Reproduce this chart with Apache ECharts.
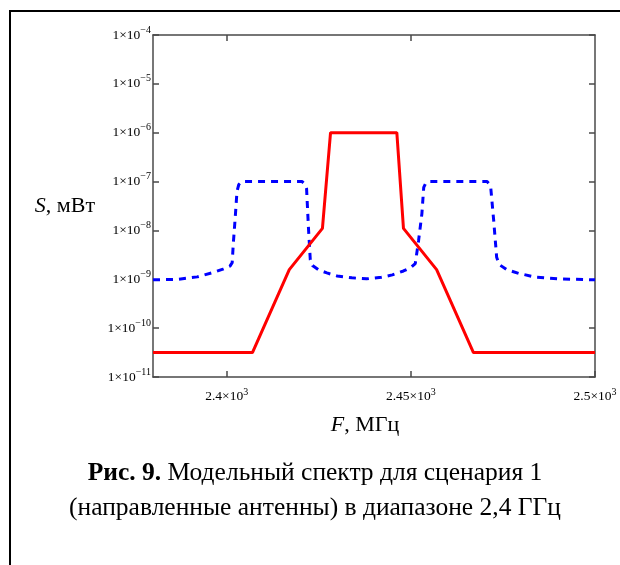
<!DOCTYPE html>
<html>
<head>
<meta charset="utf-8">
<script src="https://cdn.jsdelivr.net/npm/echarts@6/dist/echarts.min.js"></script>
<style>
  html, body { margin: 0; padding: 0; background: #fff; }
  #chart { width: 620px; height: 565px; }
</style>
</head>
<body>
<div id="chart"></div>
<script>
// red: directional antenna, channel centred at 2437 MHz
const redFreq = [2380, 2407, 2417, 2426, 2428.2, 2446.2, 2448, 2457, 2467, 2500]
const redPower = [3.16e-11, 3.16e-11, 1.58e-9, 1.1e-8, 1e-6, 1e-6, 1.1e-8, 1.58e-9, 3.16e-11, 3.16e-11]

// blue dashed: neighbour channels at 2412 and 2462 MHz
const blueFreq = [
  2380, 2387, 2392, 2396.3, 2399, 2400.9, 2401.5, 2401.8, 2402.3, 2402.8, 2403.3, 2404.1,
  2420.5, 2421.3, 2421.7, 2422.2, 2422.7, 2423.3, 2425, 2427.2, 2430, 2434, 2438, 2442,
  2445, 2448, 2450, 2451.2, 2452.1, 2453, 2453.5, 2454, 2454.8,
  2470.7, 2471.3, 2471.7, 2472.5, 2473.3, 2474, 2476, 2479.3, 2484, 2490, 2500
]
const bluePower = [
  9.77e-10, 1.0e-9, 1.12e-9, 1.38e-9, 1.62e-9, 1.86e-9, 2.19e-9, 5.37e-9, 1.74e-8, 6.31e-8, 8.71e-8, 1.0e-7,
  1.0e-7, 8.71e-8, 7.08e-8, 1.15e-8, 2.51e-9, 1.91e-9, 1.55e-9, 1.35e-9, 1.17e-9, 1.07e-9, 1.02e-9, 1.10e-9,
  1.23e-9, 1.48e-9, 1.74e-9, 2.09e-9, 6.17e-9, 2.19e-8, 7.59e-8, 9.12e-8, 1.0e-7,
  1.0e-7, 8.91e-8, 7.41e-8, 1.58e-8, 2.82e-9, 2.0e-9, 1.58e-9, 1.32e-9, 1.10e-9, 1.02e-9, 9.77e-10
]

const xTicks = [2400, 2450, 2500]
const xLabels = { 2400: '2.4', 2450: '2.45', 2500: '2.5' }
const yMin = 1e-11
const yMax = 1e-4

const serif = '"Liberation Serif", "DejaVu Serif", serif'
const axisColor = '#4a4a4a'

const chart = echarts.init(document.getElementById('chart'))

chart.setOption({
  animation: false,
  title: {
    left: 310,
    top: 451,
    textAlign: 'center',
    text: '{b|Рис. 9.} Модельный спектр для сценария 1\n(направленные антенны) в диапазоне 2,4 ГГц',
    textStyle: {
      fontFamily: serif,
      fontSize: 25.5,
      fontWeight: 'normal',
      color: '#000',
      lineHeight: 35,
      rich: {
        b: { fontFamily: serif, fontSize: 25.5, fontWeight: 'bold', color: '#000' }
      }
    }
  },
  graphic: [
    { type: 'line', shape: { x1: 9, y1: 11, x2: 620, y2: 11 }, style: { stroke: '#000', lineWidth: 2 } },
    { type: 'line', shape: { x1: 10, y1: 10, x2: 10, y2: 565 }, style: { stroke: '#000', lineWidth: 2 } }
  ],
  grid: { left: 153, right: 25, top: 35, bottom: 188 },
  xAxis: [
    {
      type: 'value',
      min: 2380,
      max: 2500,
      name: '{i|F}, МГц',
      nameLocation: 'middle',
      nameGap: 37,
      nameTextStyle: {
        fontFamily: serif,
        fontSize: 22,
        color: '#000',
        padding: [0, 18, 0, 0],
        rich: { i: { fontFamily: serif, fontSize: 22, fontStyle: 'italic', color: '#000' } }
      },
      axisLine: { lineStyle: { color: axisColor, width: 1.5 } },
      axisTick: { inside: true, length: 6, customValues: xTicks, lineStyle: { color: axisColor, width: 1.5 } },
      axisLabel: {
        customValues: xTicks,
        margin: 10,
        formatter: (v) => '{m|' + xLabels[v] + '×10}{s|3}',
        rich: {
          m: { fontFamily: serif, fontSize: 13.5, color: '#000' },
          s: { fontFamily: serif, fontSize: 10, color: '#000', padding: [0, 0, 8, 0] }
        }
      },
      splitLine: { show: false }
    },
    {
      type: 'value',
      position: 'top',
      min: 2380,
      max: 2500,
      axisLine: { lineStyle: { color: axisColor, width: 1.5 } },
      axisTick: { inside: true, length: 6, customValues: [2400, 2450], lineStyle: { color: axisColor, width: 1.5 } },
      axisLabel: { show: false },
      splitLine: { show: false }
    }
  ],
  yAxis: [
    {
      type: 'log',
      logBase: 10,
      min: yMin,
      max: yMax,
      name: '{i|S}, мВт',
      nameLocation: 'middle',
      nameRotate: 0,
      nameGap: 58,
      nameTextStyle: {
        fontFamily: serif,
        fontSize: 22,
        color: '#000',
        align: 'right',
        rich: { i: { fontFamily: serif, fontSize: 22, fontStyle: 'italic', color: '#000' } }
      },
      axisLine: { lineStyle: { color: axisColor, width: 1.5 } },
      axisTick: { inside: true, length: 6, lineStyle: { color: axisColor, width: 1.5 } },
      axisLabel: {
        margin: 2,
        formatter: (v) => '{m|1×10}{s|−' + Math.round(-Math.log10(v)) + '}',
        rich: {
          m: { fontFamily: serif, fontSize: 13.5, color: '#000' },
          s: { fontFamily: serif, fontSize: 10, color: '#000', padding: [0, 0, 10, 0] }
        }
      },
      splitLine: { show: false }
    },
    {
      type: 'log',
      logBase: 10,
      position: 'right',
      min: yMin,
      max: yMax,
      axisLine: { lineStyle: { color: axisColor, width: 1.5 } },
      axisTick: { inside: true, length: 6, lineStyle: { color: axisColor, width: 1.5 } },
      axisLabel: { show: false },
      splitLine: { show: false }
    }
  ],
  series: [
    {
      name: 'neighbours',
      type: 'line',
      showSymbol: false,
      data: blueFreq.map((f, i) => [f, bluePower[i]]),
      lineStyle: { color: '#0000ff', width: 3, type: [7, 6] },
      z: 2
    },
    {
      name: 'channel',
      type: 'line',
      showSymbol: false,
      data: redFreq.map((f, i) => [f, redPower[i]]),
      lineStyle: { color: '#ff0000', width: 3 },
      z: 3
    }
  ]
})
</script>
</body>
</html>
